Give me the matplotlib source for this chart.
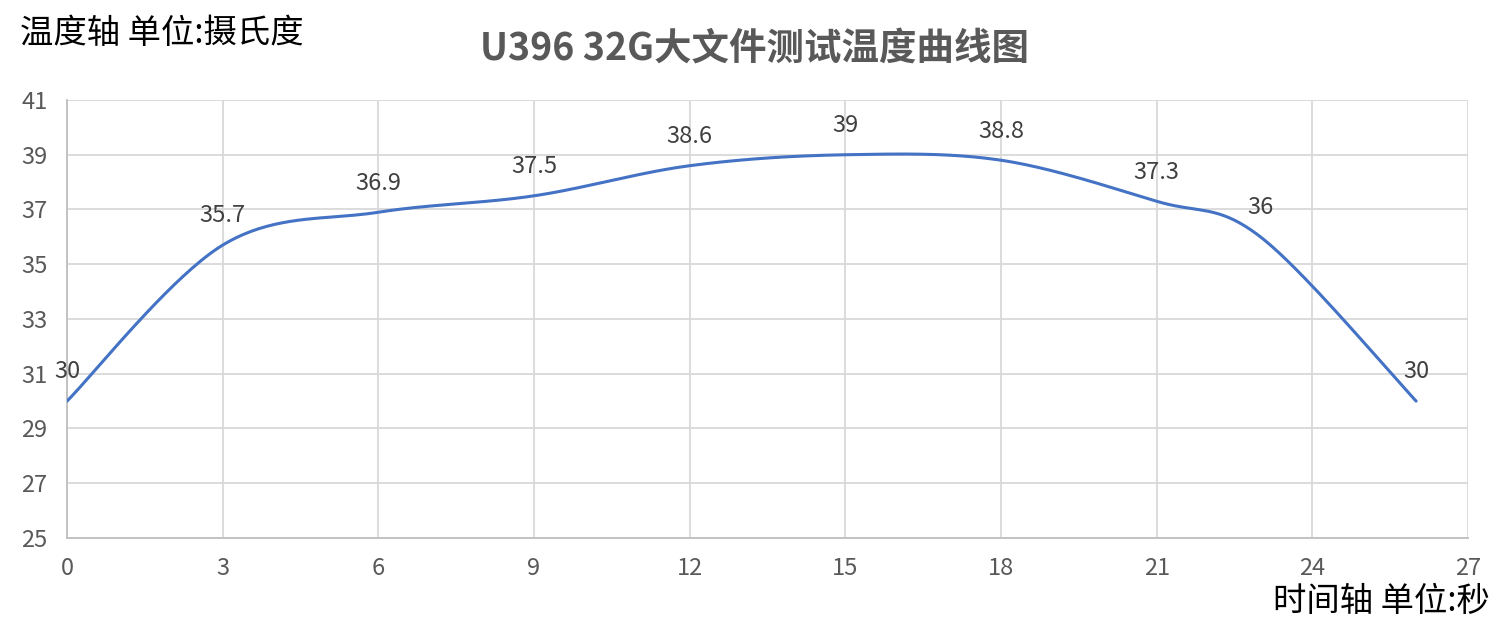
import numpy as np
import matplotlib
matplotlib.use('Agg')
import matplotlib.pyplot as plt

plt.rcParams['font.family'] = ['Noto Sans CJK SC', 'DejaVu Sans']

# data
time_s = [0, 3, 6, 9, 12, 15, 18, 21, 23, 26]
temp_c = [30, 35.7, 36.9, 37.5, 38.6, 39, 38.8, 37.3, 36, 30]
x_ticks = list(range(0, 28, 3))
y_ticks = list(range(25, 42, 2))

title = 'U396 32G大文件测试温度曲线图'
y_title = '温度轴 单位:摄氏度'
x_title = '时间轴 单位:秒'

LINE = '#4472C4'
GRID = '#D9D9D9'
TEXT = '#595959'


def smooth(xs, ys, n=40):
    """
     bezier smoothing like excel's smoothed line
     :param xs: x values
     :param ys: y values
     :returns the smoothed x and y arrays
      """
    pts = np.column_stack([xs, ys]).astype(float)
    pts_ext = np.vstack([pts[0], pts, pts[-1]])
    out = []
    t = np.linspace(0, 1, n)[:, None]
    for i in range(len(pts) - 1):
        p0, p1, p2, p3 = pts_ext[i], pts_ext[i + 1], pts_ext[i + 2], pts_ext[i + 3]
        c1 = p1 + (p2 - p0) / 6
        c2 = p2 - (p3 - p1) / 6
        seg = ((1 - t) ** 3) * p1 + 3 * ((1 - t) ** 2) * t * c1 + 3 * (1 - t) * t ** 2 * c2 + t ** 3 * p2
        out.append(seg if i == 0 else seg[1:])
    out = np.vstack(out)
    return out[:, 0], out[:, 1]


def plot():
    fig = plt.figure(figsize=(15.1, 6.39), dpi=100)
    ax = fig.add_axes([0.0444, 0.1581, 0.9278, 0.6854])

    sx, sy = smooth(time_s, temp_c)
    ax.plot(sx, sy, color=LINE, linewidth=2.2, solid_capstyle='round', zorder=3)

    for x, y in zip(time_s, temp_c):
        ax.annotate(f'{y:g}', (x, y), xytext=(0, 21), textcoords='offset points',
                    ha='center', va='center', fontsize=17, color='#404040', zorder=4)

    ax.set_xlim(0, 27)
    ax.set_ylim(25, 41)
    ax.set_xticks(x_ticks)
    ax.set_yticks(y_ticks)
    ax.grid(True, color=GRID, linewidth=1.3)
    ax.set_axisbelow(True)
    for side in ['top', 'right']:
        ax.spines[side].set_visible(False)
    for side in ['left', 'bottom']:
        ax.spines[side].set_color('#BFBFBF')
        ax.spines[side].set_linewidth(1.3)
    ax.tick_params(length=0, labelsize=17, labelcolor=TEXT)
    ax.tick_params(axis='x', pad=14)
    ax.tick_params(axis='y', pad=14)

    fig.text(0.5, 0.925, title, ha='center', va='center', fontsize=27,
             fontweight='bold', color=TEXT)
    fig.text(0.013, 0.948, y_title, ha='left', va='center', fontsize=24, color='black')
    fig.text(0.987, 0.058, x_title, ha='right', va='center', fontsize=24, color='black')

    fig.savefig('out.png', dpi=100)


if __name__ == '__main__':
    plot()
